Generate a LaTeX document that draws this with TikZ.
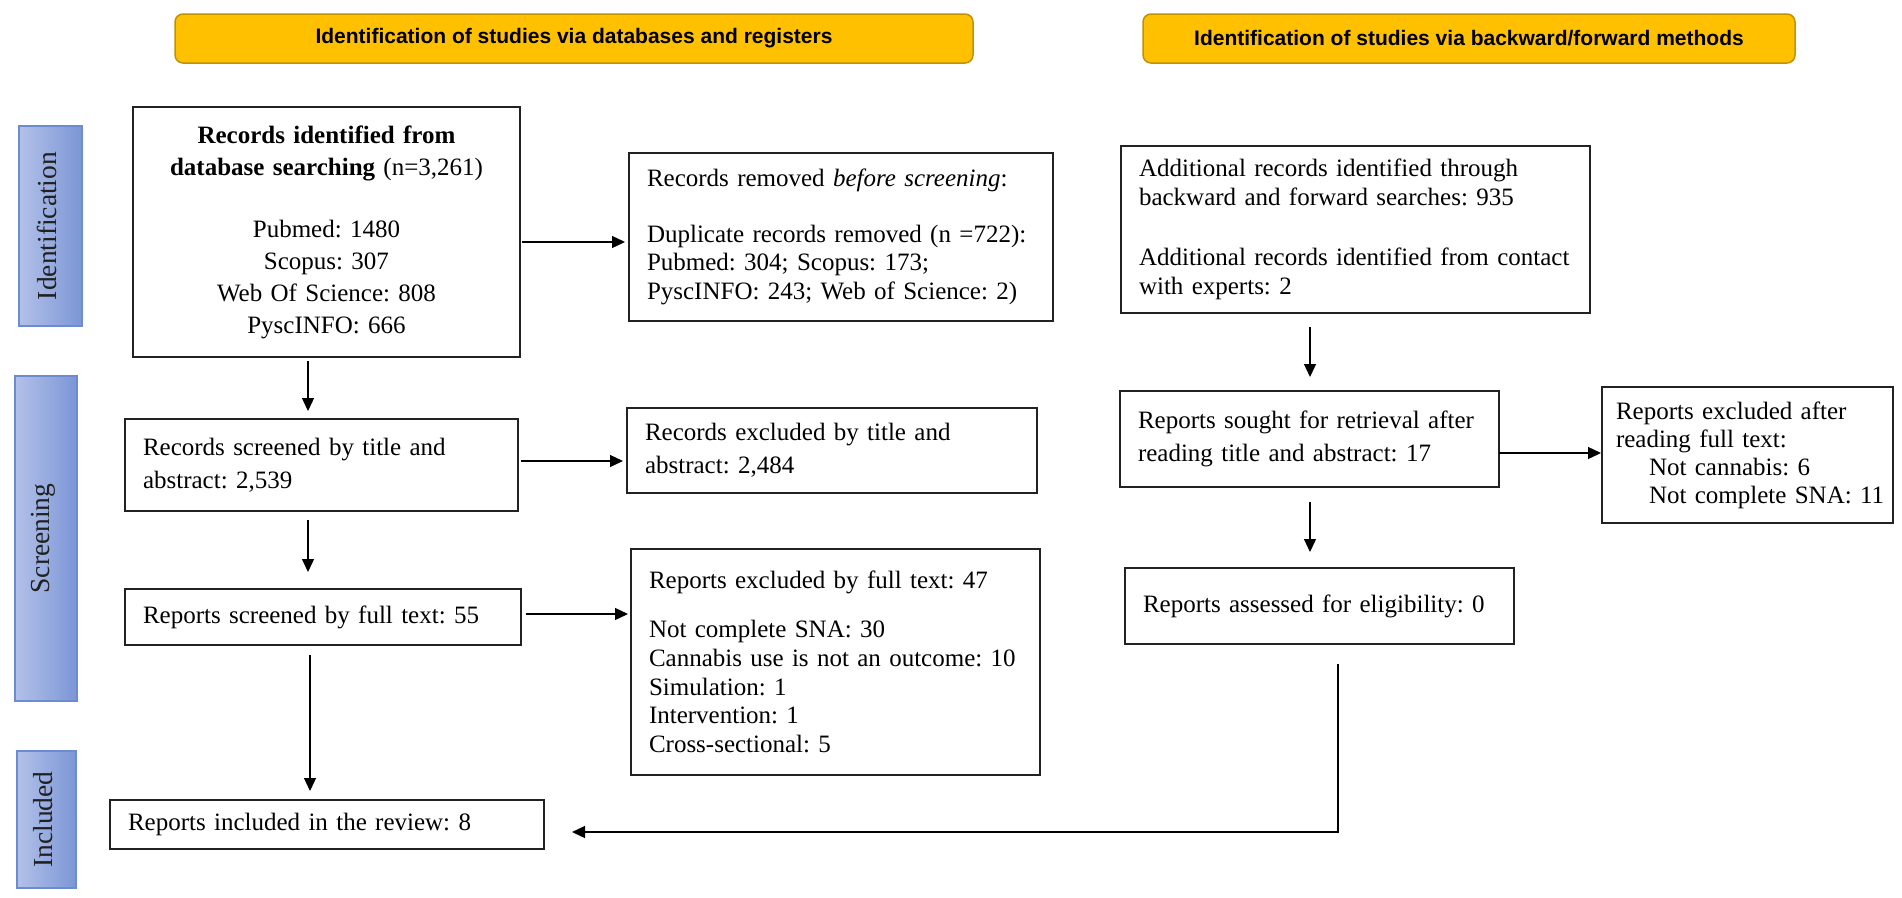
\documentclass[tikz,border=0pt]{standalone}
\usepackage{fontspec}
\setmainfont{Liberation Serif}
\newfontfamily\headfont{Liberation Sans}
\usetikzlibrary{arrows.meta,calc}
\definecolor{hdrfill}{HTML}{FFC000}
\definecolor{hdrdraw}{HTML}{C09100}
\definecolor{sideL}{HTML}{B3C1E8}
\definecolor{sideR}{HTML}{7B96D6}
\definecolor{sidedraw}{HTML}{6C8BD0}
\definecolor{boxdraw}{HTML}{222222}
\definecolor{sidetext}{HTML}{202020}
\frenchspacing
\begin{document}
\begin{tikzpicture}[x=1pt,y=-1pt,
  every node/.style={inner sep=0pt, outer sep=0pt},
  hdr/.style={draw=hdrdraw, line width=1.5pt, fill=hdrfill, rounded corners=8pt,
    minimum height=49pt, font=\headfont\bfseries\fontsize{21}{24}\selectfont},
  sidebox/.style={draw=sidedraw, line width=1.2pt, left color=sideL, right color=sideR},
  sidelabel/.style={rotate=90, text=sidetext, font=\fontsize{27.5}{30}\selectfont},
  flowbox/.style={draw=boxdraw, line width=1.6pt, fill=white, inner xsep=18pt,
    align=left, font=\fontsize{25}{28.75}\selectfont},
  arr/.style={line width=1.3pt, -{Triangle[length=13pt,width=12pt]}},
  plain/.style={line width=1.3pt}
]
\useasboundingbox (0,0) rectangle (1902,897);

% headers
\node[hdr, minimum width=798pt] (h1) at (574,38.5) {Identification of studies via databases and registers};
\node[hdr, minimum width=652pt] (h2) at (1469,38.5) {Identification of studies via backward/forward methods};

% side labels
\node[sidebox, minimum width=63pt, minimum height=200pt] (sId) at (50.5,226) {};
\node[sidelabel] (tId) at ($(sId.center)+(-4,0)$) {Identification};
\node[sidebox, minimum width=62pt, minimum height=325pt] (sSc) at (46,538.5) {};
\node[sidelabel] (tSc) at ($(sSc.center)+(-3,0)$) {Screening};
\node[sidebox, minimum width=59pt, minimum height=137pt] (sIn) at (46.5,819.5) {};
\node[sidelabel] (tIn) at ($(sIn.center)+(-3,0)$) {Included};

% left column
\node[flowbox, align=center, minimum width=387pt, text width=351pt, minimum height=250pt,
  font=\fontsize{25}{32}\selectfont] (A) at (326.5,232)
  {\textbf{Records identified from}\\\textbf{database searching} (n=3,261)\\[30pt]Pubmed: 1480\\Scopus: 307\\Web Of Science: 808\\PyscINFO: 666};
\node[flowbox, minimum width=424pt, text width=388pt, minimum height=168pt] (B) at (841,237)
  {Records removed \textit{before screening}:\\[27pt]Duplicate records removed (n =722):\\Pubmed: 304; Scopus: 173;\\PyscINFO: 243; Web of Science: 2)};
\node[flowbox, minimum width=393pt, text width=357pt, minimum height=92pt,
  font=\fontsize{25}{33}\selectfont] (C) at (321.5,465)
  {Records screened by title and\\abstract: 2,539};
\node[flowbox, minimum width=410pt, text width=374pt, minimum height=85pt,
  font=\fontsize{25}{33}\selectfont] (D) at (832,450.5)
  {Records excluded by title and\\abstract: 2,484};
\node[flowbox, minimum width=396pt, text width=360pt, minimum height=56pt] (E) at (323,617)
  {Reports screened by full text: 55};
\node[flowbox, minimum width=409pt, text width=373pt, minimum height=226pt] (F) at (835.5,662)
  {Reports excluded by full text: 47\\[20pt]Not complete SNA: 30\\Cannabis use is not an outcome: 10\\Simulation: 1\\Intervention: 1\\Cross-sectional: 5};
\node[flowbox, minimum width=434pt, text width=398pt, minimum height=49pt] (G) at (327,824.5)
  {Reports included in the review: 8};

% right column
\node[flowbox, minimum width=469pt, text width=433pt, minimum height=167pt,
  font=\fontsize{25}{29.5}\selectfont] (H) at (1355.5,229.5)
  {Additional records identified through\\backward and forward searches: 935\\[30pt]Additional records identified from contact\\with experts: 2};
\node[flowbox, minimum width=379pt, text width=343pt, minimum height=96pt,
  font=\fontsize{25}{33}\selectfont] (I) at (1309.5,439)
  {Reports sought for retrieval after\\reading title and abstract: 17};
\node[flowbox, minimum width=291pt, text width=263pt, inner xsep=14pt, minimum height=136pt,
  font=\fontsize{25}{28}\selectfont] (J) at (1747.5,455)
  {Reports excluded after\\reading full text:\\\mbox{\hspace*{33pt}Not cannabis: 6}\\\mbox{\hspace*{33pt}Not complete SNA: 11}};
\node[flowbox, minimum width=389pt, text width=353pt, minimum height=76pt] (K) at (1319.5,606)
  {Reports assessed for eligibility: 0};

% connectors
\draw[arr] ($(A.east)+(2,10)$) -- ($(B.west)+(-4,5)$);
\draw[arr] ($(A.south)+(-18.5,4)$) -- ($(C.north)+(-13.5,-8)$);
\draw[arr] ($(C.east)+(3,-4)$) -- ($(D.west)+(-4,10.5)$);
\draw[arr] ($(C.south)+(-13.5,9)$) -- ($(E.north)+(-15,-17)$);
\draw[arr] ($(E.east)+(5,-3)$) -- ($(F.west)+(-3,-48)$);
\draw[arr] ($(E.south)+(-13,10)$) -- ($(G.north)+(-17,-9)$);
\draw[arr] ($(H.south)+(-45.5,14)$) -- ($(I.north)+(0.5,-14)$);
\draw[arr] ($(I.east)+(0,14)$) -- ($(J.west)+(-1,-2)$);
\draw[arr] ($(I.south)+(0.5,15)$) -- ($(K.north)+(-9.5,-16)$);
\coordinate (kout) at ($(K.south)+(18.5,20)$);
\coordinate (gin) at ($(G.east)+(28,7.5)$);
\draw[arr] (kout) |- (gin);
\end{tikzpicture}
\end{document}
